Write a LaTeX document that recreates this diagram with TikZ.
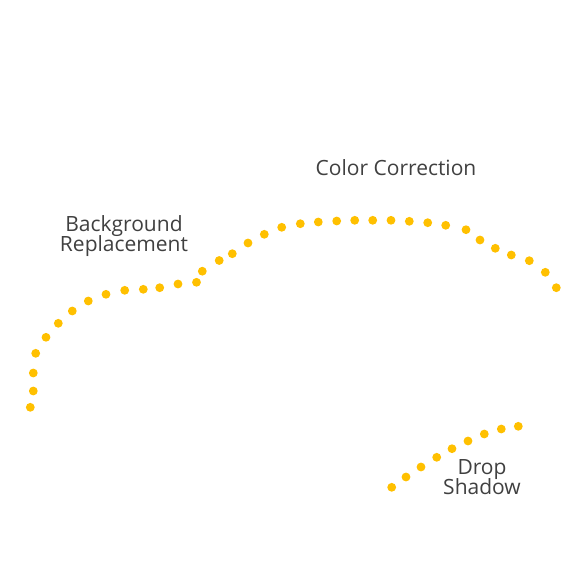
\documentclass[tikz,border=0pt]{standalone}
\usepackage{fontspec}
\setmainfont{Open Sans}
\definecolor{dotc}{HTML}{FFC000}
\definecolor{txtc}{HTML}{404040}
\newcommand\mylblfont{\fontsize{21}{20}\selectfont\lineskiplimit=-30pt\relax}
\begin{document}
\begin{tikzpicture}[x=1pt,y=-1pt,
  dot/.style={fill=dotc,draw=none},
  lbl/.style={text=txtc,font=\mylblfont,align=center,inner sep=0pt}]
\useasboundingbox (0,0) rectangle (575,575);
\foreach \p in {(30.3,407.3),(33.3,391),(33.3,373),(35.7,353.3),(46,337.3),(58.3,323.3),(72.3,311),(88.3,301),(106,294.3),(124.7,290.3),(143.3,289.3),(159.7,287.7),(178,284),(196.5,282.3),(202.3,271.2),(219.2,260.5),(232.3,253.7),(248,243),(264.3,234.3),(281.7,227.3),(300.3,223.7),(318.3,222),(336.7,221),(354.7,220.3),(372.7,220.3),(391,220.3),(409.3,221.3),(427.7,222.7),(445.7,225.3),(466,229.7),(480,240),(495.3,248.3),(511.3,255),(529.3,260.7),(545.3,272.3),(556.3,287.7),
(391.7,487.3),(406,477),(421,467),(436.7,457.3),(452,448.7),(468,441),(484.3,434),(501.3,429),(518.3,426.3)}
  \fill[dot] \p circle (4.4);
\node[lbl] (bg) at (124,236) {Background\\Replacement};
\node[lbl] (cc) at (396,168) {Color Correction};
\node[lbl] (ds) at (482,477) {Drop\\Shadow};
\end{tikzpicture}
\end{document}
